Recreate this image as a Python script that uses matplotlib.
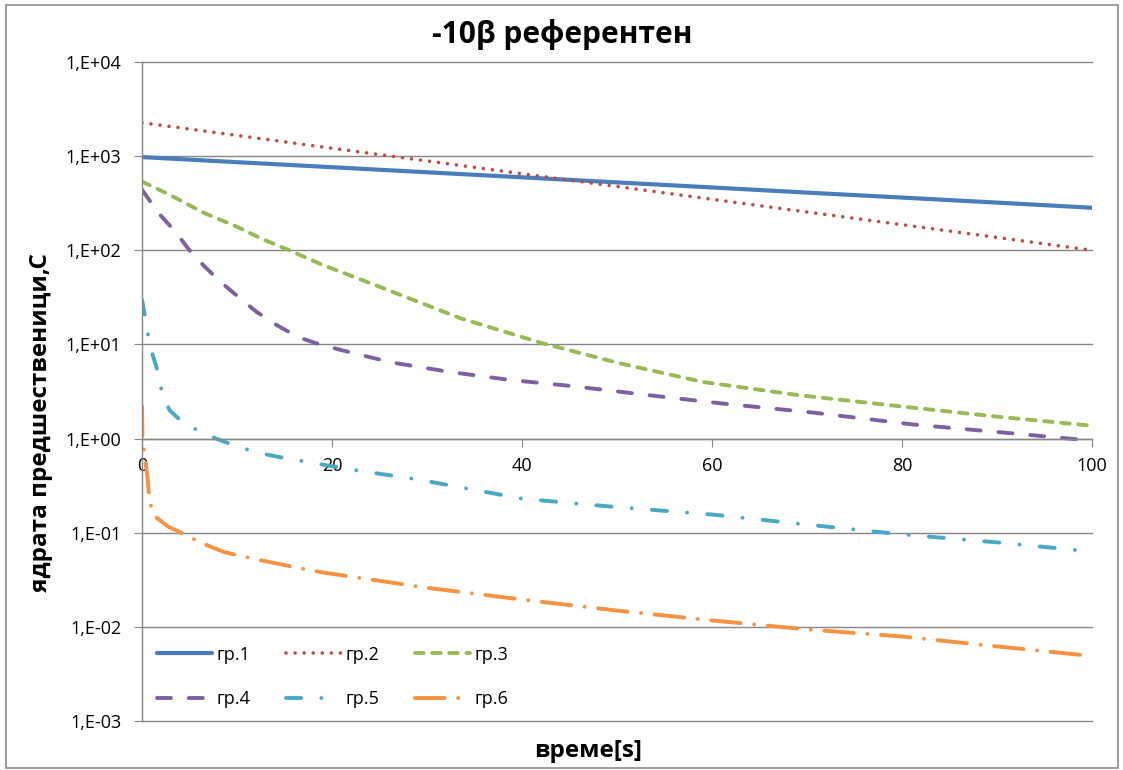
import matplotlib.pyplot as plt
import matplotlib.patches as patches
from matplotlib.ticker import FixedLocator, FuncFormatter, NullLocator
import numpy as np

# data
x_gr1 = [0, 10, 20, 30, 40, 50, 60, 70, 80, 90, 100]
y_gr1 = [977, 863, 763, 674, 596, 526, 465, 410, 363, 321, 283]

x_gr2 = [0, 10, 20, 30, 40, 50, 60, 70, 80, 90, 100]
y_gr2 = [2265, 1660, 1213, 889, 650, 476, 348, 255, 187, 137, 100]

x_gr3 = [0, 3, 6.5, 10, 12.5, 15.5, 19, 25, 33.5, 42, 50, 59, 69, 80, 90, 100]
y_gr3 = [537, 385, 250, 178, 134, 100, 70, 41, 19, 10.4, 6.4, 4.0, 2.9, 2.19, 1.71, 1.37]

x_gr4 = [0, 1.7, 3.5, 5, 6.6, 8.4, 10.3, 12.1, 14.2, 16.4, 18.2, 20.8, 23.8,
         26.4, 32.4, 38.7, 45.4, 53.2, 61.2, 70.6, 81.2, 90.6, 100]
y_gr4 = [440, 251, 158, 100, 67, 45, 31, 22, 16, 12, 10.4, 8.8, 7.4,
         6.4, 5.1, 4.2, 3.6, 2.9, 2.35, 1.89, 1.41, 1.16, 0.95]

x_gr5 = [0, 0.5, 0.85, 1.6, 2.1, 2.9, 4.3, 6.1, 8, 10.1, 12.2, 14.3, 17.2,
         21.9, 28.9, 40, 50, 60, 70, 80, 90, 100]
y_gr5 = [30, 15.5, 9.5, 5.4, 3.1, 2.0, 1.48, 1.19, 0.98, 0.82, 0.71, 0.64, 0.57,
         0.47, 0.37, 0.23, 0.187, 0.156, 0.122, 0.096, 0.079, 0.063]

x_gr6 = [0, 0.05, 0.3, 0.6, 0.8, 1.4, 2.7, 4.5, 6.1, 8.7, 11.7, 16.1, 18.9,
         30, 40, 50, 60, 70, 80, 90, 100]
y_gr6 = [2.2, 1.0, 0.64, 0.37, 0.21, 0.148, 0.117, 0.096, 0.079, 0.062, 0.053, 0.043, 0.038,
         0.026, 0.0195, 0.0149, 0.0117, 0.0094, 0.0079, 0.0062, 0.0049]

labels = ['гр.1', 'гр.2', 'гр.3', 'гр.4', 'гр.5', 'гр.6']
x_ticks = [0, 20, 40, 60, 80, 100]
y_ticks = [1e-3, 1e-2, 1e-1, 1e0, 1e1, 1e2, 1e3, 1e4]

plt.rcParams['font.family'] = ['Open Sans', 'DejaVu Sans']

fig = plt.figure(figsize=(11.23, 7.70), dpi=100)
fig.patches.append(patches.Rectangle((6 / 1123, 2 / 770), 1112 / 1123, 763 / 770,
                                     transform=fig.transFigure, fill=False,
                                     edgecolor='#8c8c8c', linewidth=1.2))
ax = fig.add_axes([142 / 1123, 49 / 770, 950 / 1123, 659 / 770])

series = [
    (x_gr1, y_gr1, '#4A7EBB', 3.0, None),
    (x_gr2, y_gr2, '#BE4B48', 2.6, (0.01, 2.5)),
    (x_gr3, y_gr3, '#98B954', 2.8, (2.2, 2.2)),
    (x_gr4, y_gr4, '#7D60A0', 2.8, (3.6, 4.6)),
    (x_gr5, y_gr5, '#46AAC5', 2.8, (3.9, 5.2, 0.01, 5.2)),
    (x_gr6, y_gr6, '#F69240', 2.8, (7.6, 3.5, 0.01, 3.5)),
]

handles = []
for (xs, ys, c, lw, dash), lab in zip(series, labels):
    line, = ax.plot(xs, ys, color=c, linewidth=lw, label=lab,
                    solid_capstyle='round', dash_capstyle='round')
    if dash is not None:
        line.set_dashes(dash)
    handles.append(line)

ax.set_yscale('log')
ax.set_xlim(0, 100)
ax.set_ylim(1e-3, 1e4)
ax.yaxis.set_major_locator(FixedLocator(y_ticks))
ax.yaxis.set_minor_locator(NullLocator())
ax.yaxis.set_major_formatter(FuncFormatter(lambda v, p: f"1,E{int(round(np.log10(v))):+03d}"))
ax.set_xticks(x_ticks)
ax.grid(axis='y', color='#868686', linewidth=1.0)
ax.set_axisbelow(True)
for gl in ax.get_ygridlines():
    gl.set_clip_on(False)

for s in ['top', 'right']:
    ax.spines[s].set_visible(False)
ax.spines['bottom'].set_position(('data', 1))
for s in ['left', 'bottom']:
    ax.spines[s].set_color('#868686')
    ax.spines[s].set_linewidth(1.0)

ax.tick_params(axis='y', direction='out', length=6, color='#868686', labelsize=13, pad=9)
ax.tick_params(axis='x', direction='out', length=6, color='#868686', labelsize=13, pad=7)

order = [0, 3, 1, 4, 2, 5]
ax.legend([handles[i] for i in order], [labels[i] for i in order],
          ncol=3, loc='lower left', bbox_to_anchor=(0.016, 0.02), frameon=False,
          borderpad=0, borderaxespad=0,
          fontsize=13, handlelength=3.05, handletextpad=0.25, columnspacing=1.97,
          labelspacing=1.45)

fig.text(562 / 1123, 1 - 35 / 770, '-10β референтен', ha='center', va='center',
         fontsize=21.5, fontweight='bold')
fig.text(41 / 1123, 1 - 423 / 770, 'ядрата предшественици,С', ha='center', va='center',
         rotation=90, fontsize=17.5, fontweight='bold')
fig.text(588 / 1123, 1 - 751 / 770, 'време[s]', ha='center', va='center',
         fontsize=17.5, fontweight='bold')

fig.savefig('out.png', dpi=100)
